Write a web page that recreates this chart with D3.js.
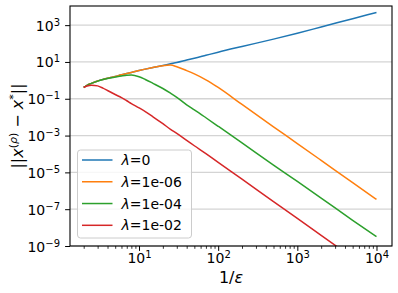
<!DOCTYPE html>
<html>
<head>
<meta charset="utf-8">
<script src="https://cdn.jsdelivr.net/npm/d3@7"></script>
<style>
  html, body { margin: 0; padding: 0; background: #fff; }
  svg { display: block; font-family: "DejaVu Sans", sans-serif; }
</style>
</head>
<body>
<svg id="chart" width="398" height="293"></svg>
<script>
// ---- data ----
const invEps = [2, 2.2, 2.5, 3, 3.5, 4, 5, 6, 7, 8, 10, 12, 15, 20, 25, 30, 40, 50, 70, 100, 200, 500, 1000, 2000, 5000, 10000];
const errLambda0 = [0.41, 0.54, 0.69, 0.93, 1.12, 1.29, 1.62, 2.0, 2.34, 2.69, 3.39, 4.07, 5.01, 6.46, 7.94, 9.33, 12.6, 15.8, 22.9, 33.9, 69.2, 174, 363, 794, 2240, 4900];
const errLambda1e6 = [0.41, 0.54, 0.69, 0.93, 1.12, 1.29, 1.62, 2.0, 2.34, 2.69, 3.39, 4.07, 5.01, 6.31, 6.76, 5.5, 3.39, 2.24, 1.07, 0.41, 0.049, 3.0e-3, 3.7e-4, 4.5e-5, 2.75e-6, 3.4e-7];
const errLambda1e4 = [0.41, 0.54, 0.69, 0.91, 1.10, 1.26, 1.51, 1.74, 1.91, 1.95, 1.58, 1.12, 0.69, 0.36, 0.20, 0.12, 0.047, 0.025, 9.3e-3, 3.2e-3, 4.0e-4, 2.5e-5, 3.2e-6, 4.0e-7, 2.5e-8, 3.2e-9];
const errLambda1e2 = [0.41, 0.49, 0.55, 0.50, 0.38, 0.28, 0.17, 0.115, 0.078, 0.055, 0.032, 0.020, 0.0105, 4.4e-3, 2.2e-3, 1.3e-3, 5.5e-4, 2.8e-4, 1.05e-4, 3.5e-5, 4.3e-6, 2.6e-7, 3.2e-8, 3.8e-9, 2.3e-10, 2.8e-11];
const seriesLabels = ["0", "1e-06", "1e-04", "1e-02"];
const seriesColors = ["#1f77b4", "#ff7f0e", "#2ca02c", "#d62728"];
const xTickValues = [10, 100, 1000, 10000];
const xTickExponents = ["1", "2", "3", "4"];
const yTickValues = [1e3, 1e1, 1e-1, 1e-3, 1e-5, 1e-7, 1e-9];
const yTickExponents = ["3", "1", "\u22121", "\u22123", "\u22125", "\u22127", "\u22129"];

const allSeries = [errLambda0, errLambda1e6, errLambda1e4, errLambda1e2];

// ---- layout ----
const svg = d3.select("#chart");
const L = 70, R = 392, T = 6, B = 246;

const x = d3.scaleLog().domain([Math.pow(10, 0.128), Math.pow(10, 4.196)]).range([L, R]);
const y = d3.scaleLog().domain([1e-9, Math.pow(10, 4.04)]).range([B, T]);

svg.append("rect").attr("width", 398).attr("height", 293).attr("fill", "#fff");

// grid
svg.append("g").selectAll("line").data(yTickValues).join("line")
  .attr("x1", L).attr("x2", R)
  .attr("y1", d => y(d)).attr("y2", d => y(d))
  .attr("stroke", "#d4d4d4").attr("stroke-width", 1.3);

// clip
svg.append("clipPath").attr("id", "clip")
  .append("rect").attr("x", L).attr("y", T).attr("width", R - L).attr("height", B - T);

const line = d3.line()
  .x(d => x(d[0]))
  .y(d => y(d[1]))
  .curve(d3.curveMonotoneX);

const gLines = svg.append("g").attr("clip-path", "url(#clip)");
allSeries.forEach((vals, i) => {
  gLines.append("path")
    .datum(invEps.map((xv, j) => [xv, vals[j]]))
    .attr("fill", "none")
    .attr("stroke", seriesColors[i])
    .attr("stroke-width", 1.5)
    .attr("stroke-linejoin", "round")
    .attr("d", line);
});

// x minor ticks
const minor = [];
[1, 10, 100, 1000].forEach(b => { for (let k = 2; k <= 9; k++) minor.push(b * k); });
svg.append("g").attr("transform", `translate(0,${B})`)
  .call(d3.axisBottom(x).tickValues(minor.filter(v => v >= x.domain()[0] && v <= x.domain()[1])).tickSize(2.8).tickFormat(() => ""))
  .call(g => g.select(".domain").remove())
  .call(g => g.selectAll("line").attr("stroke", "#000").attr("stroke-width", 0.8));

// x major axis
const gx = svg.append("g").attr("transform", `translate(0,${B})`)
  .call(d3.axisBottom(x).tickValues(xTickValues).tickSize(4.9).tickFormat(() => ""));
gx.select(".domain").remove();
gx.selectAll("line").attr("stroke", "#000").attr("stroke-width", 1);
gx.selectAll("text").each(function(d, i) {
  const t = d3.select(this);
  t.attr("y", 17).attr("dy", null).attr("fill", "#000")
    .attr("font-size", 14).attr("font-family", "DejaVu Sans");
  t.append("tspan").text("10");
  t.append("tspan").attr("font-size", 10).attr("dy", -5).text(xTickExponents[i]);
});

// y axis
const gy = svg.append("g").attr("transform", `translate(${L},0)`)
  .call(d3.axisLeft(y).tickValues(yTickValues).tickSize(4.9).tickFormat(() => ""));
gy.select(".domain").remove();
gy.selectAll("line").attr("stroke", "#000").attr("stroke-width", 1);
gy.selectAll("text").each(function(d, i) {
  const t = d3.select(this);
  t.attr("x", -10).attr("dy", "0.36em").attr("fill", "#000")
    .attr("font-size", 14).attr("font-family", "DejaVu Sans");
  t.append("tspan").text("10");
  t.append("tspan").attr("font-size", 10).attr("dy", -5).text(yTickExponents[i]);
});

// frame
svg.append("rect").attr("x", L).attr("y", T).attr("width", R - L).attr("height", B - T)
  .attr("fill", "none").attr("stroke", "#000").attr("stroke-width", 1.1);

// axis labels
const xl = svg.append("text").attr("x", (L + R) / 2).attr("y", 283)
  .attr("text-anchor", "middle").attr("font-size", 16).attr("fill", "#000");
xl.append("tspan").text("1/");
xl.append("tspan").attr("font-style", "italic").text("\u03b5");

const yl = svg.append("text")
  .attr("transform", `translate(23,${(T + B) / 2}) rotate(-90)`)
  .attr("text-anchor", "middle").attr("font-size", 16).attr("fill", "#000");
yl.append("tspan").text("||");
yl.append("tspan").attr("font-style", "italic").text("x");
yl.append("tspan").attr("font-size", 11).attr("dy", -6).text("(");
yl.append("tspan").attr("font-size", 11).attr("font-style", "italic").text("\u03c1");
yl.append("tspan").attr("font-size", 11).text(")");
yl.append("tspan").attr("dy", 6).text(" \u2212 ");
yl.append("tspan").attr("font-style", "italic").text("x");
yl.append("tspan").attr("font-size", 11).attr("dy", -6).text("*");
yl.append("tspan").attr("dy", 6).text("||");

// legend
const lg = svg.append("g");
lg.append("rect").attr("x", 77.5).attr("y", 150).attr("width", 114).attr("height", 88)
  .attr("rx", 3).attr("fill", "#fff").attr("fill-opacity", 0.8)
  .attr("stroke", "#cccccc").attr("stroke-width", 1);
const rowY = d3.scaleLinear().domain([0, 3]).range([160, 225.3]);
seriesLabels.forEach((lab, i) => {
  const yy = rowY(i);
  lg.append("line").attr("x1", 82).attr("x2", 112.5).attr("y1", yy).attr("y2", yy)
    .attr("stroke", seriesColors[i]).attr("stroke-width", 1.5);
  const t = lg.append("text").attr("x", 121.5).attr("y", yy + 5)
    .attr("font-size", 14).attr("fill", "#000");
  t.append("tspan").attr("font-style", "italic").text("\u03bb");
  t.append("tspan").text("=" + lab);
});
</script>
</body>
</html>
